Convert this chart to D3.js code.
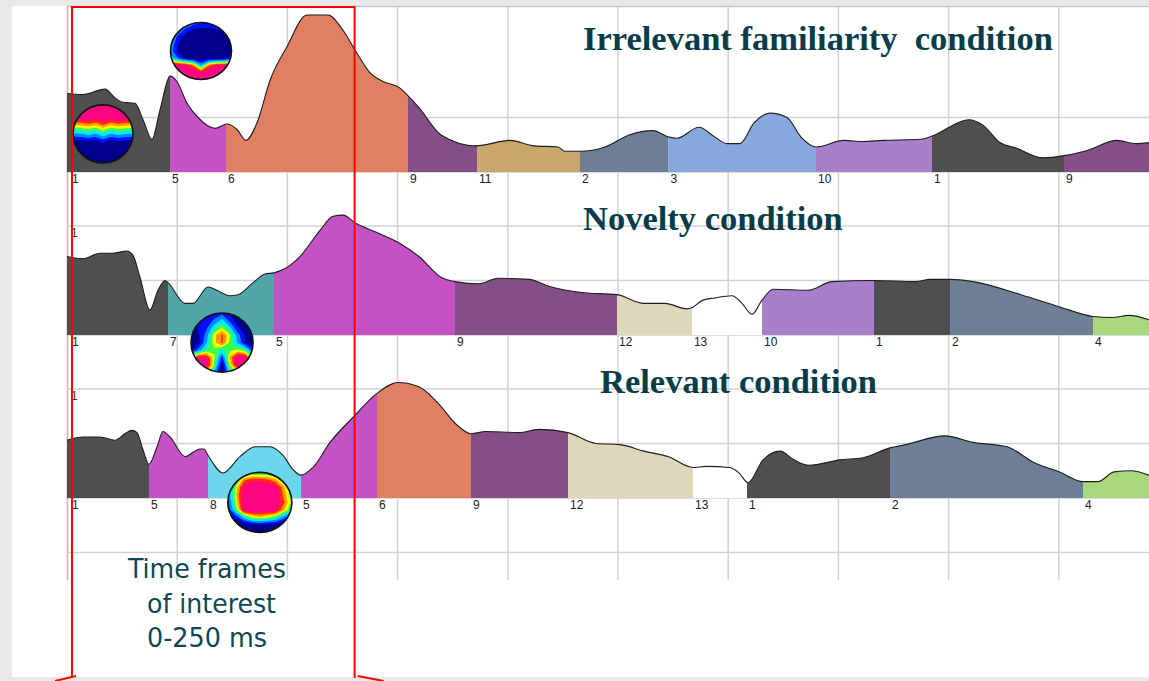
<!DOCTYPE html>
<html>
<head>
<meta charset="utf-8">
<script src="https://cdn.jsdelivr.net/npm/d3@7"></script>
<style>
  html, body { margin: 0; padding: 0; background: #e8e9e8; }
  svg { display: block; }
  text.title { white-space: pre; }
</style>
</head>
<body>
<svg id="chart" width="1149" height="681"></svg>
<script>
// ---- Microstate segmentation of the GFP curves, three conditions ----
const conditions = ["Irrelevant familiarity  condition", "Novelty condition", "Relevant condition"];

// GFP curves: [time (ms), GFP (a.u.)]
const irrelevantGfp = [[0,0.72],[14.5,0.71],[34.5,0.76],[43.6,0.68],[50.8,0.64],[61.7,0.63],[69,0.48],[77.1,0.30],[84.4,0.57],[93.5,0.88],[99.8,0.83],[108.9,0.63],[118.9,0.50],[134.3,0.40],[145.2,0.44],[154.3,0.39],[162.4,0.29],[172.4,0.45],[184.2,0.84],[199.6,1.15],[217.8,1.44],[236.8,1.44],[250.5,1.30],[261.3,1.12],[275,0.91],[286.8,0.83],[302.2,0.77],[311.3,0.68],[319.4,0.59],[339.4,0.34],[371.1,0.24],[402,0.29],[423.8,0.24],[445.6,0.23],[451.9,0.19],[465.5,0.19],[488.2,0.23],[510,0.34],[531.8,0.38],[546.3,0.32],[553.5,0.31],[573.5,0.41],[588,0.32],[598.9,0.26],[610.7,0.26],[623.4,0.45],[637.9,0.54],[653.4,0.50],[666.1,0.32],[679.7,0.23],[705.1,0.29],[722.3,0.28],[740.5,0.29],[775,0.30],[785,0.33],[818.5,0.48],[831.2,0.43],[846.6,0.27],[861.2,0.22],[885.7,0.13],[904.7,0.15],[926.5,0.20],[952.8,0.29],[970,0.26],[981.9,0.27]];
const noveltyGfp = [[0,0.72],[14.5,0.70],[29.9,0.75],[41.7,0.75],[54.4,0.77],[59.9,0.73],[66.2,0.53],[75.3,0.23],[82.6,0.41],[88.9,0.50],[91.7,0.48],[107.1,0.29],[114.3,0.29],[128,0.44],[136.1,0.41],[147.9,0.36],[155.2,0.37],[168.8,0.48],[179.7,0.56],[187.8,0.57],[196,0.60],[211.4,0.72],[229.6,0.96],[241.4,1.09],[250.5,1.10],[261.3,1.03],[281.3,0.94],[302.2,0.84],[319.4,0.72],[339.4,0.53],[352.1,0.49],[373.9,0.47],[391.1,0.52],[419.2,0.51],[436.5,0.45],[467.3,0.39],[499.1,0.37],[523.6,0.29],[542.6,0.29],[562.6,0.24],[567.1,0.25],[577.1,0.32],[588,0.34],[603.4,0.36],[612.5,0.29],[621.6,0.19],[630.7,0.32],[640.7,0.42],[672.4,0.41],[694.2,0.49],[731.4,0.50],[770.4,0.49],[783.1,0.51],[801.3,0.51],[822.1,0.49],[865.7,0.37],[900.2,0.26],[931,0.17],[948.3,0.16],[963.7,0.18],[981.9,0.14]];
const relevantGfp = [[0,0.53],[14.5,0.56],[29.9,0.56],[43.6,0.53],[52.6,0.59],[59,0.62],[63.5,0.60],[69,0.44],[74.4,0.31],[81.7,0.47],[87.1,0.61],[93.5,0.56],[107.1,0.38],[120.7,0.45],[124.3,0.45],[128,0.39],[141.6,0.23],[157,0.38],[170.6,0.47],[184.2,0.47],[196,0.39],[205.1,0.26],[212.3,0.21],[223.2,0.28],[238.7,0.51],[259.5,0.74],[281.3,0.96],[300.4,1.06],[319.4,1.02],[336.7,0.87],[353.9,0.67],[366.6,0.59],[380.2,0.61],[410.2,0.60],[428.3,0.63],[454.6,0.60],[480,0.50],[501.8,0.49],[523.6,0.43],[545.4,0.38],[568.1,0.28],[579.9,0.29],[601.6,0.28],[609.8,0.23],[618,0.14],[631.6,0.35],[647,0.43],[659.7,0.35],[673.3,0.30],[701.5,0.35],[722.3,0.37],[746.8,0.46],[761.3,0.49],[796.7,0.57],[822.1,0.51],[853,0.47],[878.4,0.32],[900.2,0.24],[922,0.15],[935.6,0.15],[950.1,0.24],[965.5,0.25],[981.9,0.21]];

// Microstate classes and their onsets (ms)
const irrelevantStates = [1, 5, 6, 9, 11, 2, 3, 10, 1, 9];
const irrelevantOnsets = [0, 93.5, 144.3, 309.4, 372, 465.5, 545.8, 679.7, 785, 904.7];
const noveltyStates = [1, 7, 5, 9, 12, 13, 10, 1, 2, 4];
const noveltyOnsets = [0, 91.7, 187.8, 352.1, 499.1, 567.1, 630.7, 732.3, 801.3, 931];
const relevantStates = [1, 5, 8, 5, 6, 9, 12, 13, 1, 2, 4];
const relevantOnsets = [0, 74.4, 128, 212.3, 281.3, 366.6, 454.6, 568.1, 617, 746.8, 922];

// Map class -> fill colour
const stateColors = {
  1: "#4f4f4f", 2: "#6d7e96", 3: "#87a8dc", 4: "#a8d77c", 5: "#c552c5",
  6: "#e07f61", 7: "#50a6a8", 8: "#6dd5ec", 9: "#844f86", 10: "#a87fcb",
  11: "#c8a66e", 12: "#dfd7b9", 13: "#ffffff"
};

// Axis ticks / grid levels
const timeTicks = [0, 100, 200, 300, 400, 500, 600, 700, 800, 900];
const gridLevels = [[0, 0.5], [0, 0.5, 1], [-0.5, 0, 0.5, 1]];
const yTickLabels = [[], [1], [1]];

// Window of interest (ms)
const windowStart = 4.5, windowEnd = 261;
const windowText = ["Time frames", "of interest", "0-250 ms"];

// Scalp maps: 9x9 grids of normalised potential (rows top -> bottom)
const mapThresholds = [0.12, 0.24, 0.36, 0.48, 0.58, 0.68, 0.78, 0.88];
const mapPalette = ["#00008c", "#0010ff", "#0088ff", "#00eaff", "#3cff50", "#f0ff00", "#ff9a00", "#ff2a10", "#ff0582"];

const gridState1 = [
  1,1,1,1,1,1,1,1,1,
  1,1,1,1,1,1,1,1,1,
  0.9,0.92,0.95,0.9,0.98,0.9,0.95,0.92,0.9,
  0.61,0.63,0.67,0.62,0.72,0.62,0.67,0.64,0.62,
  0.34,0.36,0.40,0.36,0.46,0.36,0.40,0.37,0.35,
  0.06,0.08,0.12,0.08,0.18,0.08,0.12,0.10,0.08,
  0,0,0,0,0,0,0,0,0,
  0,0,0,0,0,0,0,0,0,
  0,0,0,0,0,0,0,0,0
];
const gridState5 = [
  0.55,0.45,0.40,0.30,0.25,0.25,0.30,0.40,0.50,
  0.50,0.35,0.20,0.10,0.08,0.08,0.10,0.18,0.35,
  0.40,0.20,0.05,0,0,0,0,0.03,0.15,
  0.35,0.12,0.02,0,0,0,0,0.01,0.10,
  0.30,0.10,0.02,0,0,0,0,0.01,0.08,
  0.45,0.25,0.08,0.03,0,0.02,0.04,0.06,0.18,
  0.98,0.95,0.92,0.75,0.35,0.75,0.90,0.92,0.95,
  1,1,1,1,0.92,1,1,1,1,
  1,1,1,1,1,1,1,1,1
];
const gridState7 = [
  0,0,0.15,0.20,0.20,0.10,0,0,0,
  0,0.10,0.20,0.25,0.40,0.20,0.05,0,0,
  0,0.15,0.22,0.45,0.60,0.40,0.15,0.05,0,
  0,0.10,0.30,0.65,0.80,0.60,0.30,0.10,0,
  0,0.10,0.35,0.65,0.80,0.55,0.35,0.12,0,
  0.10,0.30,0.50,0.55,0.45,0.55,0.60,0.50,0.20,
  0.60,0.95,0.90,0.60,0.20,0.70,1,0.95,0.50,
  0.60,1,1,0.55,0.05,0.60,1,0.90,0.40,
  0.30,0.60,0.70,0.35,0,0.40,0.60,0.50,0.20
];
const gridState8 = [
  0.20,0.30,0.40,0.45,0.45,0.45,0.40,0.30,0.20,
  0.20,0.45,0.75,0.85,0.85,0.80,0.70,0.50,0.30,
  0.25,0.60,0.95,1,1,1,0.95,0.70,0.45,
  0.25,0.65,1,1,1,1,1,0.75,0.50,
  0.20,0.60,1,1,1,1,1,0.80,0.55,
  0.15,0.50,0.95,1,1,1,0.95,0.70,0.45,
  0.02,0.15,0.40,0.60,0.65,0.60,0.50,0.30,0.15,
  0,0,0.03,0.08,0.10,0.08,0.05,0,0,
  0,0,0,0,0,0,0,0,0
];

// Where each map sits: panel, time (ms), GFP level, radii (px)
const scalpMaps = [
  { panel: 0, t: 32.7, v: 0.35, rx: 30, ry: 29, grid: gridState1 },
  { panel: 0, t: 121.6, v: 1.11, rx: 30.5, ry: 28.5, grid: gridState5 },
  { panel: 1, t: 140.7, v: -0.07, rx: 31, ry: 29.5, grid: gridState7 },
  { panel: 2, t: 175, v: -0.04, rx: 32, ry: 30, grid: gridState8 }
];

const panels = [
  { title: conditions[0], gfp: irrelevantGfp, states: irrelevantStates, onsets: irrelevantOnsets, titleX: 583, titleY: 50 },
  { title: conditions[1], gfp: noveltyGfp, states: noveltyStates, onsets: noveltyOnsets, titleX: 583, titleY: 230 },
  { title: conditions[2], gfp: relevantGfp, states: relevantStates, onsets: relevantOnsets, titleX: 600, titleY: 393 }
];

// ---- layout ----
const W = 1149, H = 681;
const plotTop = 6, gridBottom = 580;
const panelBase = [172, 335, 498];
const unitPx = 109;

const svg = d3.select("#chart");
const defs = svg.append("defs");

svg.append("rect").attr("x", 0).attr("y", 0).attr("width", W).attr("height", H).attr("fill", "#e8e9e8");
svg.append("rect").attr("x", 12).attr("y", plotTop).attr("width", W - 12).attr("height", 677 - plotTop).attr("fill", "#ffffff");

const x = d3.scaleLinear().domain([0, 1000]).range([67, 1169]);
const yScales = panelBase.map(b => d3.scaleLinear().domain([0, 1]).range([b, b - unitPx]));

// grid
const grid = svg.append("g");
grid.selectAll("line.v").data(timeTicks.slice(1)).join("line")
  .attr("x1", d => x(d)).attr("x2", d => x(d))
  .attr("y1", plotTop).attr("y2", gridBottom)
  .attr("stroke", "#d2d2d2").attr("stroke-width", 1.5);
panels.forEach((p, i) => {
  grid.selectAll(null).data(gridLevels[i]).join("line")
    .attr("x1", x(0)).attr("x2", W)
    .attr("y1", d => yScales[i](d)).attr("y2", d => yScales[i](d))
    .attr("stroke", "#d2d2d2").attr("stroke-width", 1.5);
});
grid.append("line").attr("x1", x(0)).attr("x2", W).attr("y1", plotTop + 0.5).attr("y2", plotTop + 0.5)
  .attr("stroke", "#c8c8c8").attr("stroke-width", 1.5);
grid.append("line").attr("x1", x(0) + 0.5).attr("x2", x(0) + 0.5).attr("y1", plotTop).attr("y2", gridBottom)
  .attr("stroke", "#c6c6c6").attr("stroke-width", 2);

// panels
panels.forEach((p, i) => {
  const y = yScales[i];
  const g = svg.append("g");
  const area = d3.area().x(d => x(d[0])).y0(y(0)).y1(d => y(d[1])).curve(d3.curveMonotoneX);
  const line = d3.line().x(d => x(d[0])).y(d => y(d[1])).curve(d3.curveMonotoneX);

  p.states.forEach((s, k) => {
    const t0 = p.onsets[k];
    const t1 = k + 1 < p.onsets.length ? p.onsets[k + 1] : 1000;
    const id = `seg-${i}-${k}`;
    defs.append("clipPath").attr("id", id).append("rect")
      .attr("x", x(t0)).attr("y", y(2)).attr("width", x(t1) - x(t0)).attr("height", y(0) - y(2) + 1);
    g.append("path").datum(p.gfp).attr("d", area)
      .attr("fill", stateColors[s]).attr("clip-path", `url(#${id})`);
  });
  g.append("path").datum(p.gfp).attr("d", line)
    .attr("fill", "none").attr("stroke", "#1e1e1e").attr("stroke-width", 1.1);

  // class labels under the baseline
  g.selectAll("text.lab").data(p.states).join("text")
    .attr("x", (s, k) => x(p.onsets[k]) + (k === 0 ? 5 : 2))
    .attr("y", y(0) + 11)
    .attr("font-family", "Liberation Sans, Arial, sans-serif")
    .attr("font-size", 12).attr("fill", "#222")
    .text(s => s);

  // y tick labels
  g.selectAll("text.yt").data(yTickLabels[i]).join("text")
    .attr("x", x(0) + 4).attr("y", d => y(d) + 11)
    .attr("font-family", "Liberation Sans, Arial, sans-serif")
    .attr("font-size", 12).attr("fill", "#333").text(d => d);

  // condition title
  svg.append("text").attr("class", "title").attr("x", p.titleX).attr("y", p.titleY)
    .attr("xml:space", "preserve")
    .attr("font-family", "Liberation Serif, Times New Roman, serif")
    .attr("font-weight", "bold").attr("font-size", 34.5).attr("fill", "#073c49")
    .text(p.title);
});

// scalp maps
const n = 9;
scalpMaps.forEach((m, idx) => {
  const cx = x(m.t), cy = yScales[m.panel](m.v);
  const g = svg.append("g");
  const cid = `map-${idx}`;
  defs.append("clipPath").attr("id", cid).append("ellipse")
    .attr("cx", cx).attr("cy", cy).attr("rx", m.rx).attr("ry", m.ry);
  const proj = d3.geoTransform({
    point(px, py) {
      this.stream.point(cx + ((px - 0.5) / (n - 1) * 2 - 1) * m.rx,
                        cy + ((py - 0.5) / (n - 1) * 2 - 1) * m.ry);
    }
  });
  const path = d3.geoPath(proj);
  const bands = d3.contours().size([n, n]).thresholds(mapThresholds)(m.grid);
  const inner = g.append("g").attr("clip-path", `url(#${cid})`);
  inner.append("ellipse").attr("cx", cx).attr("cy", cy).attr("rx", m.rx).attr("ry", m.ry)
    .attr("fill", mapPalette[0]);
  inner.selectAll("path").data(bands).join("path")
    .attr("d", path).attr("fill", (d, k) => mapPalette[k + 1]);
  g.append("ellipse").attr("cx", cx).attr("cy", cy).attr("rx", m.rx).attr("ry", m.ry)
    .attr("fill", "none").attr("stroke", "#111").attr("stroke-width", 1.6);
});

// window of interest
const red = svg.append("g").attr("stroke", "#ff0000").attr("stroke-width", 2).attr("fill", "none");
const wx0 = x(windowStart), wx1 = x(windowEnd);
red.append("path").attr("d", `M${wx0},678V${plotTop + 1}H${wx1}V678`);
red.append("line").attr("x1", wx0 + 4).attr("y1", 676).attr("x2", wx0 - 17).attr("y2", 681);
red.append("line").attr("x1", wx1 + 3).attr("y1", 676).attr("x2", wx1 + 29).attr("y2", 681);

const wt = svg.append("g").attr("font-family", "DejaVu Sans Condensed, DejaVu Sans, sans-serif")
  .attr("font-size", 27).attr("fill", "#0e4752");
const wtPos = [[128, 578, 158], [147, 613, 129], [147, 647, 120]];
windowText.forEach((s, i) => {
  wt.append("text").attr("x", wtPos[i][0]).attr("y", wtPos[i][1])
    .attr("textLength", wtPos[i][2]).attr("lengthAdjust", "spacingAndGlyphs").text(s);
});
</script>
</body>
</html>
